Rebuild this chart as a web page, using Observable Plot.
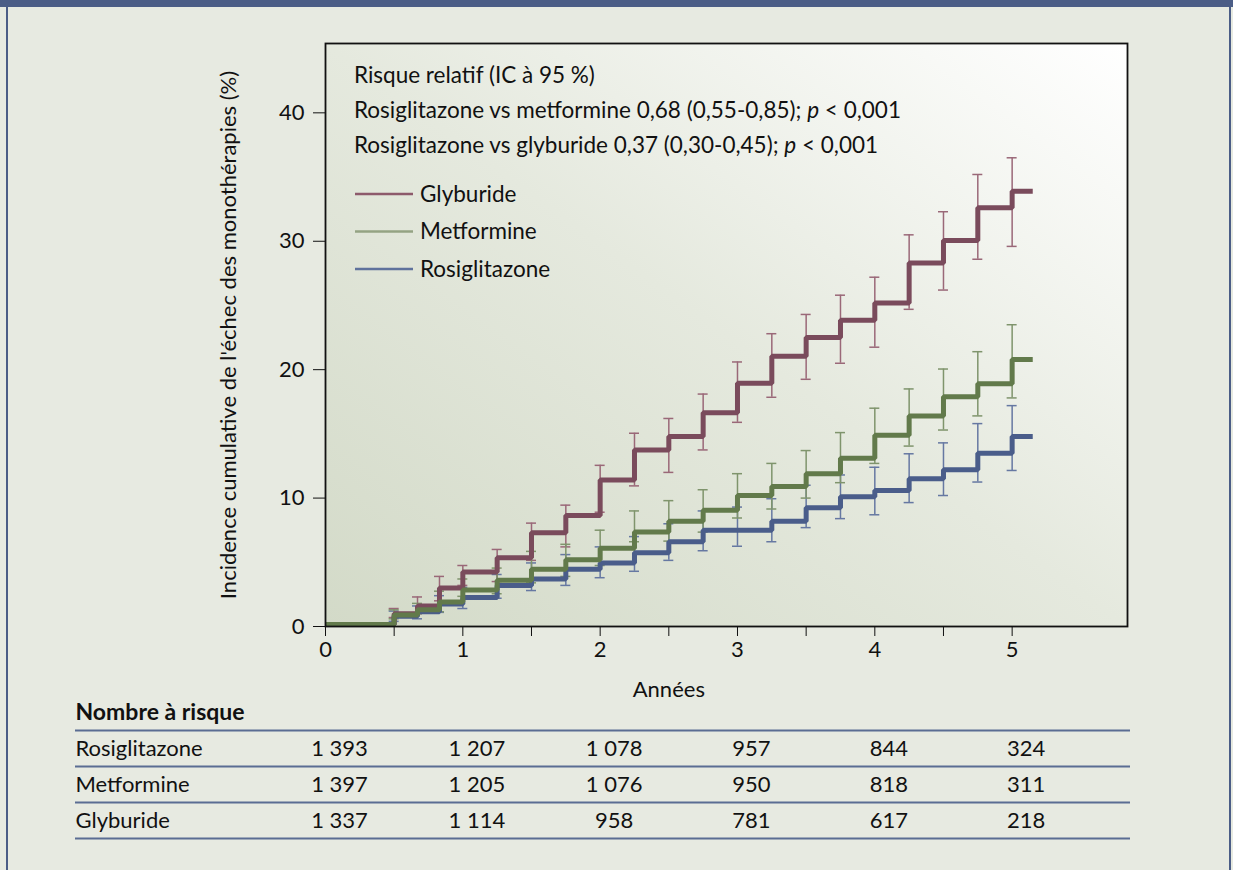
<!DOCTYPE html>
<html><head><meta charset="utf-8">
<script src="https://cdn.jsdelivr.net/npm/d3@7"></script>
<script src="https://cdn.jsdelivr.net/npm/@observablehq/plot@0.6"></script>
<style>
body{margin:0;background:#e7eae1;font-family:Lato,sans-serif;}
#wrap{position:relative;width:1233px;height:870px;overflow:hidden;background:#e7eae1}
#topbar{position:absolute;left:0;top:0;width:1233px;height:7px;background:#4b5d86}
.vb{position:absolute;top:0;width:2px;height:870px;background:#4b5d86}
.abs{position:absolute;left:0}
</style></head>
<body>
<div id="wrap">
  <div id="topbar"></div>
  <div class="vb" style="left:6px"></div>
  <div class="vb" style="left:1229px"></div>
  <div id="chart" class="abs" style="top:0"></div>
  <div id="table" class="abs" style="top:690px"></div>
  <svg id="legend" class="abs" style="top:0" width="1233" height="300" font-family="Lato" font-size="22.5"></svg>
</div>
<script>
// ---------- data ----------
const series = ["Glyburide", "Metformine", "Rosiglitazone"];
const stepTimes = [0, 0.5, 0.67, 0.83, 1, 1.25, 1.5, 1.75, 2, 2.25, 2.5, 2.75, 3, 3.25, 3.5, 3.75, 4, 4.25, 4.5, 4.75, 5, 5.15];
const glyburide     = [0.15, 1.0, 1.6, 3.0, 4.25, 5.35, 7.3, 8.65, 11.4, 13.75, 14.8, 16.65, 18.95, 21.05, 22.5, 23.85, 25.2, 28.3, 30.05, 32.6, 33.9, 33.9];
const metformine    = [0.15, 0.9, 1.3, 1.9, 2.85, 3.6, 4.45, 5.2, 6.1, 7.35, 8.2, 9.05, 10.2, 10.9, 11.9, 13.1, 14.9, 16.4, 17.9, 18.9, 20.8, 20.8];
const rosiglitazone = [0.15, 0.8, 1.15, 1.75, 2.25, 3.2, 3.7, 4.45, 4.95, 5.75, 6.6, 7.5, 7.5, 8.2, 9.25, 10.1, 10.6, 11.5, 12.2, 13.5, 14.8, 14.8];

const errTimes = [0.5, 0.67, 0.83, 1, 1.25, 1.5, 1.75, 2, 2.25, 2.5, 2.75, 3, 3.25, 3.5, 3.75, 4, 4.25, 4.5, 4.75, 5];
const glyLo  = [0.7, 1.0, 2.0, 3.2, 3.5, 5.15, 6.2, 8.9, 10.95, 12.0, 13.75, 15.9, 17.85, 19.25, 20.5, 21.75, 24.7, 26.2, 28.6, 29.6];
const glyHi  = [1.4, 2.3, 3.9, 4.75, 6.0, 8.05, 9.45, 12.55, 15.05, 16.2, 18.1, 20.6, 22.8, 24.3, 25.8, 27.2, 30.5, 32.3, 35.2, 36.5];
const metLo  = [0.6, 1.0, 1.15, 2.35, 2.55, 3.4, 3.9, 4.75, 6.6, 6.65, 7.35, 8.45, 9.15, 10.0, 11.2, 12.7, 14.05, 15.3, 16.4, 17.8];
const metHi  = [1.3, 1.8, 2.75, 3.7, 4.55, 5.85, 6.4, 7.5, 9.0, 9.8, 10.65, 11.9, 12.7, 13.7, 15.1, 17.0, 18.5, 20.05, 21.4, 23.5];
const rosLo  = [0.4, 0.6, 1.1, 1.4, 2.2, 2.8, 3.2, 3.8, 4.3, 5.15, 5.9, 6.25, 6.6, 7.7, 8.4, 8.7, 9.65, 10.2, 11.25, 12.15];
const rosHi  = [1.2, 1.6, 2.4, 3.05, 4.05, 4.95, 5.6, 6.2, 7.0, 8.0, 9.0, 9.3, 9.95, 11.0, 11.8, 12.4, 13.45, 14.3, 15.8, 17.2];

const xTicks = [0, 1, 2, 3, 4, 5];
const xMinorTicks = [0.5, 1.5, 2.5, 3.5, 4.5];
const yTicks = [0, 10, 20, 30, 40];

const tableRows = ["Rosiglitazone", "Metformine", "Glyburide"];
const atRiskRosi = ["1 393", "1 207", "1 078", "957", "844", "324"];
const atRiskMet  = ["1 397", "1 205", "1 076", "950", "818", "311"];
const atRiskGly  = ["1 337", "1 114", "958", "781", "617", "218"];

const yLabel = "Incidence cumulative de l'échec des monothérapies (%)";
const xLabel = "Années";
const tableTitle = "Nombre à risque";
const statTitle = "Risque relatif (IC à 95 %)";
const stat1 = ["Rosiglitazone vs metformine 0,68 (0,55-0,85); ", "p", " < 0,001"];
const stat2 = ["Rosiglitazone vs glyburide 0,37 (0,30-0,45); ", "p", " < 0,001"];

// ---------- styles ----------
const lineColor = {Glyburide: "#7a4b5c", Metformine: "#627a4b", Rosiglitazone: "#4a5d8a"};
const barColor  = {Glyburide: "#9a6878", Metformine: "#7f946c", Rosiglitazone: "#6678a2"};
const legendColor = {Glyburide: "#8d5a6b", Metformine: "#94a383", Rosiglitazone: "#5f729c"};

const values = {Glyburide: glyburide, Metformine: metformine, Rosiglitazone: rosiglitazone};
const lows = {Glyburide: glyLo, Metformine: metLo, Rosiglitazone: rosLo};
const highs = {Glyburide: glyHi, Metformine: metHi, Rosiglitazone: rosHi};

const lineData = s => stepTimes.map((t, i) => ({t, v: values[s][i]}));
const errData = s => errTimes.map((t, i) => ({t, lo: lows[s][i], hi: highs[s][i]}));

const drawOrder = ["Rosiglitazone", "Glyburide", "Metformine"];
const xDomain = [0, 5.84];
const W = 1233, mL = 325, mR = 106;

const errMarks = drawOrder.flatMap(s => [
  Plot.ruleX(errData(s), {x: "t", y1: "lo", y2: "hi", stroke: barColor[s], strokeWidth: 1.5}),
  Plot.ruleY(errData(s), {y: "lo", x1: "t", x2: "t", insetLeft: -5, insetRight: -5, stroke: barColor[s], strokeWidth: 1.5}),
  Plot.ruleY(errData(s), {y: "hi", x1: "t", x2: "t", insetLeft: -5, insetRight: -5, stroke: barColor[s], strokeWidth: 1.5})
]);
const lineMarks = drawOrder.map(s =>
  Plot.line(lineData(s), {x: "t", y: "v", curve: "step-after", stroke: lineColor[s], strokeWidth: 5, strokeLinejoin: "miter", strokeLinecap: "butt"})
);

const chart = Plot.plot({
  width: W, height: 720,
  marginLeft: mL, marginRight: mR, marginTop: 43, marginBottom: 94,
  x: {domain: xDomain},
  y: {domain: [0, 45.4]},
  style: {fontFamily: "Lato", fontSize: "22px", color: "#111", background: "transparent", overflow: "visible"},
  marks: [
    Plot.frame({fill: "url(#plotbg)", stroke: null}),
    ...errMarks,
    ...lineMarks,
    Plot.frame({stroke: "#111", strokeWidth: 1.8}),
    Plot.axisY({ticks: yTicks, tickSize: 12, tickPadding: 9, label: null, fontSize: 22, tickFormat: d => String(d)}),
    Plot.axisX({ticks: xTicks, tickSize: 10, tickPadding: 5, label: null, fontSize: 22, tickFormat: d => String(d)}),
    Plot.axisX({ticks: xMinorTicks, tickSize: 10, tickFormat: () => "", label: null}),
    Plot.text([yLabel], {frameAnchor: "left", text: d => d, rotate: -90, dx: -97, textAnchor: "middle", lineAnchor: "middle", fontSize: 22}),
    Plot.text([xLabel], {x: d3.mean(xTicks), frameAnchor: "bottom", text: d => d, dy: 63, lineAnchor: "middle", fontSize: 22})
  ]
});
const defs = document.createElementNS("http://www.w3.org/2000/svg", "defs");
defs.innerHTML = `<linearGradient id="plotbg" x1="0" y1="1" x2="1" y2="0">
  <stop offset="0" stop-color="#d3dac8"/><stop offset="0.5" stop-color="#e5e9de"/><stop offset="1" stop-color="#ffffff"/></linearGradient>`;
chart.insertBefore(defs, chart.firstChild);
document.getElementById("chart").appendChild(chart);

// ---------- at-risk table ----------
const atRisk = {Rosiglitazone: atRiskRosi, Metformine: atRiskMet, Glyburide: atRiskGly};
const cells = tableRows.flatMap((r, i) => atRisk[r].map((v, j) => ({t: xTicks[j], row: i + 0.5, v})));
const table = Plot.plot({
  width: W, height: 170,
  marginLeft: mL, marginRight: mR, marginTop: 40, marginBottom: 22,
  x: {domain: xDomain, axis: null},
  y: {domain: [tableRows.length, 0], axis: null},
  style: {fontFamily: "Lato", fontSize: "22px", color: "#111", background: "transparent", overflow: "visible"},
  marks: [
    Plot.ruleY(d3.range(tableRows.length + 1), {insetLeft: -250, insetRight: -3, stroke: "#5b6d93", strokeWidth: 2}),
    Plot.text(tableRows, {y: (d, i) => i + 0.5, frameAnchor: "left", dx: -250, textAnchor: "start", text: d => d, fill: "#111"}),
    Plot.text(cells, {x: "t", y: "row", text: "v", dx: 14, textAnchor: "middle", fill: "#111"}),
    Plot.text([tableTitle], {frameAnchor: "top-left", dx: -250, dy: -18, textAnchor: "start", lineAnchor: "middle", fontWeight: "bold", fontSize: 23, text: d => d, fill: "#111"})
  ]
});
document.getElementById("table").appendChild(table);

// ---------- legend / statistics annotation ----------
const lg = d3.select("#legend");
lg.append("text").attr("x", 354).attr("y", 83).attr("fill", "#111").text(statTitle);
[[stat1, 118], [stat2, 153]].forEach(([parts, y]) => {
  const t = lg.append("text").attr("x", 354).attr("y", y).attr("fill", "#111");
  t.append("tspan").text(parts[0]);
  t.append("tspan").attr("font-style", "italic").text(parts[1]);
  t.append("tspan").text(parts[2]);
});
series.forEach((s, i) => {
  const y = 194 + i * 37.5;
  lg.append("line").attr("x1", 355).attr("x2", 413).attr("y1", y).attr("y2", y).attr("stroke", legendColor[s]).attr("stroke-width", 2.5);
  lg.append("text").attr("x", 420).attr("y", y + 7.5).attr("fill", "#111").text(s);
});
</script>
</body></html>
